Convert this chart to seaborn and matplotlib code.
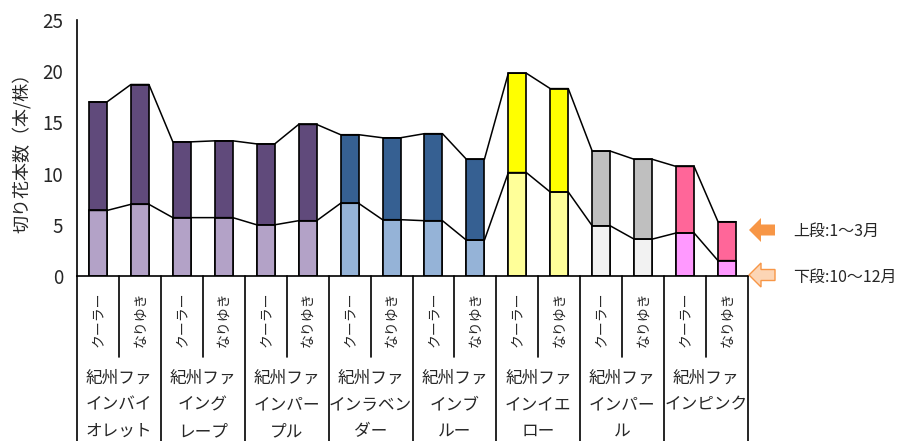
import numpy as np
import pandas as pd
import seaborn as sns
import matplotlib.pyplot as plt
from matplotlib.patches import FancyArrow
from matplotlib.transforms import IdentityTransform

# 品種とかん水方法
varieties = ["紀州ファ\nインバイ\nオレット", "紀州ファ\nイング\nレープ", "紀州ファ\nインパー\nプル",
             "紀州ファ\nインラベン\nダー", "紀州ファ\nインブ\nルー", "紀州ファ\nインイエ\nロー",
             "紀州ファ\nインパー\nル", "紀州ファ\nインピンク"]
methods = ["クーラー", "なりゆき"]

# 下段: 10～12月, 合計: 上段+下段
lower_vals = [6.4, 7.0, 5.7, 5.7, 5.0, 5.4, 7.1, 5.5, 5.4, 3.5, 10.1, 8.2, 4.9, 3.6, 4.2, 1.5]
total_vals = [17.0, 18.7, 13.1, 13.2, 12.9, 14.8, 13.8, 13.5, 13.9, 11.4, 19.8, 18.3, 12.2, 11.4, 10.7, 5.3]

upper_colors = ["#604A7B", "#604A7B", "#604A7B", "#366092", "#366092", "#FFFF00", "#BFBFBF", "#FF6699"]
lower_colors = ["#B3A2C7", "#B3A2C7", "#B3A2C7", "#95B3D7", "#95B3D7", "#FFFF99", "#F2F2F2", "#FF99FF"]

sns.set_style("white")
plt.rcParams["font.family"] = ["Noto Sans CJK JP", "DejaVu Sans"]

keys = [f"{v}|{m}" for v in varieties for m in methods]
df = pd.DataFrame({"bar": keys, "lower": lower_vals, "total": total_vals})
pal_up = {k: upper_colors[i // 2] for i, k in enumerate(keys)}
pal_lo = {k: lower_colors[i // 2] for i, k in enumerate(keys)}

W, H = 902, 441
fig = plt.figure(figsize=(W / 100, H / 100), dpi=100)
ax = fig.add_axes([77 / W, 165 / H, (748 - 77) / W, 256 / H])

bw = 0.43
sns.barplot(data=df, x="bar", y="total", hue="bar", palette=pal_up, legend=False,
            width=bw, saturation=1, edgecolor="black", linewidth=1.2, ax=ax)
sns.barplot(data=df, x="bar", y="lower", hue="bar", palette=pal_lo, legend=False,
            width=bw, saturation=1, edgecolor="black", linewidth=1.2, ax=ax)

# 系列線
xs = np.arange(len(keys))
xx = np.column_stack([xs - bw / 2, xs + bw / 2]).ravel()
ax.plot(xx, np.repeat(total_vals, 2), color="black", lw=1.1, zorder=3)
ax.plot(xx, np.repeat(lower_vals, 2), color="black", lw=1.1, zorder=3)

ax.set_xlim(-0.5, len(keys) - 0.5)
ax.set_ylim(0, 25)
ax.set_yticks(range(0, 26, 5))
ax.tick_params(axis="y", length=0, labelsize=13.5, pad=10)
ax.set_xticks([])
ax.set_xlabel("")
ax.set_ylabel("切り花本数（本/株）", fontsize=13, labelpad=8)
for s in ["top", "right"]:
    ax.spines[s].set_visible(False)
for s in ["left", "bottom"]:
    ax.spines[s].set_color("black")
    ax.spines[s].set_linewidth(1.2)

# x軸の区切り線とラベル
tr = ax.get_xaxis_transform()
for b in range(len(keys) + 1):
    bottom = -0.66 if b % 2 == 0 else -0.316
    ax.plot([b - 0.5, b - 0.5], [0, bottom], color="black", lw=1.2, transform=tr, clip_on=False)
for i, k in enumerate(keys):
    ax.text(i, -0.17, methods[i % 2], rotation=90, ha="center", va="center",
            fontsize=10, transform=tr)
for j, v in enumerate(varieties):
    ax.text(2 * j + 0.5, -0.365, v, ha="center", va="top", fontsize=12,
            linespacing=1.75, transform=tr)

# 凡例の矢印
fig.add_artist(FancyArrow(775, H - 230, -26, 0, width=11, head_width=24, head_length=12,
                          length_includes_head=True, facecolor="#F79646", edgecolor="none",
                          transform=IdentityTransform()))
fig.add_artist(FancyArrow(775, H - 275, -26, 0, width=11, head_width=24, head_length=12,
                          length_includes_head=True, facecolor="#FCD5B5", edgecolor="#F79646",
                          lw=1, transform=IdentityTransform()))
fig.text(793 / W, (H - 231) / H, "上段:1～3月", fontsize=11.5, va="center")
fig.text(793 / W, (H - 277) / H, "下段:10～12月", fontsize=11.5, va="center")

fig.savefig("out.png", dpi=100)
